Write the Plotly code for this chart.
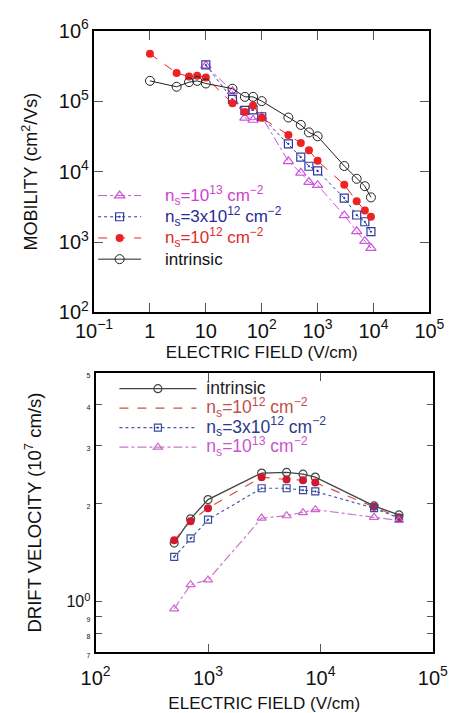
import plotly.graph_objects as go

# ---------------- data: mobility vs field (top panel) ----------------
field_a = [1, 3, 5, 7, 10, 30, 50, 70, 100, 300, 500, 700, 1000, 3000, 5000, 7000, 9000]
mob_intrinsic = [1.94e5, 1.6e5, 1.86e5, 1.94e5, 1.78e5, 1.5e5, 1.15e5, 1.15e5, 1.0e5,
                 5.85e4, 4.6e4, 3.6e4, 3.17e4, 1.2e4, 7.9e3, 6.2e3, 4.3e3]
mob_1e12 = [4.7e5, 2.5e5, 2.24e5, 2.3e5, 2.17e5, 9.3e4, 7.0e4, 8.7e4, 5.8e4,
            3.3e4, 2.55e4, 2.0e4, 1.42e4, 6.5e3, 3.8e3, 2.8e3, 2.29e3]
field_b = [10, 30, 50, 70, 100, 300, 500, 700, 1000, 3000, 5000, 7000, 9000]
mob_3e12 = [3.27e5, 1.06e5, 7.4e4, 7.5e4, 6.0e4, 2.47e4, 1.6e4, 1.19e4, 1.02e4,
            4.2e3, 2.42e3, 1.94e3, 1.4e3]
mob_1e13 = [3.2e5, 1.38e5, 5.8e4, 5.4e4, 6.0e4, 1.4e4, 9.6e3, 7.1e3, 6.4e3,
            2.39e3, 1.42e3, 1.03e3, 8.2e2]

# ---------------- data: drift velocity vs field (bottom panel) ----------------
field_c = [500, 700, 1000, 3000, 5000, 7000, 9000, 30000, 50000]
vel_intrinsic = [1.51, 1.79, 2.05, 2.47, 2.48, 2.45, 2.40, 1.96, 1.84]
vel_1e12 = [1.54, 1.76, 1.93, 2.40, 2.36, 2.35, 2.31, 1.95, 1.81]
vel_3e12 = [1.37, 1.56, 1.78, 2.22, 2.22, 2.19, 2.17, 1.93, 1.80]
vel_1e13 = [0.951, 1.127, 1.166, 1.80, 1.83, 1.87, 1.91, 1.81, 1.77]

vel_tickvals = [0.7, 0.8, 0.9, 1, 2, 3, 4, 5]
vel_ticktext = ["7", "8", "9", "10<sup>0</sup>", "2", "3", "4", "5"]

# ---------------- labels ----------------
lab_1e13 = "n<sub>s</sub>=10<sup>13</sup> cm<sup>\u22122</sup>"
lab_3e12 = "n<sub>s</sub>=3x10<sup>12</sup> cm<sup>\u22122</sup>"
lab_1e12 = "n<sub>s</sub>=10<sup>12</sup> cm<sup>\u22122</sup>"
lab_int = "intrinsic"

MAG = "#cc55dd"
BLUE = "#2e3a9e"
RED = "#ee2222"
BLK = "#222222"
RED2 = "#c9524a"

FONT = "Liberation Sans, Arial, sans-serif"


def lg(txt, col, size, pad):
    return f'<span style="font-size:{size}px;color:{col}">{pad}{txt}</span>'


PAD_TOP = "\u00a0\u00a0\u00a0\u00a0"
PAD_BOT = "\u00a0"

fig = go.Figure()

# top panel
fig.add_trace(go.Scatter(x=field_b, y=mob_1e13, mode="lines+markers", xaxis="x", yaxis="y",
                         name=lg(lab_1e13, "#cc44cc", 17, PAD_TOP), legend="legend",
                         line=dict(color=MAG, width=1, dash="dashdot"),
                         marker=dict(symbol="triangle-up-open", size=9, color=MAG, line=dict(width=1.2))))
fig.add_trace(go.Scatter(x=field_b, y=mob_3e12, mode="lines+markers", xaxis="x", yaxis="y",
                         name=lg(lab_3e12, "#2a2a9a", 17, PAD_TOP), legend="legend",
                         line=dict(color=BLUE, width=1, dash="dot"),
                         marker=dict(symbol="square-open-dot", size=8, color=BLUE, line=dict(width=1.2))))
fig.add_trace(go.Scatter(x=field_a, y=mob_1e12, mode="lines+markers", xaxis="x", yaxis="y",
                         name=lg(lab_1e12, "#dd2b2b", 17, PAD_TOP), legend="legend",
                         line=dict(color=RED, width=1, dash="dash"),
                         marker=dict(symbol="circle", size=8, color=RED)))
fig.add_trace(go.Scatter(x=field_a, y=mob_intrinsic, mode="lines+markers", xaxis="x", yaxis="y",
                         name=lg(lab_int, "#111111", 17, PAD_TOP), legend="legend",
                         line=dict(color=BLK, width=1),
                         marker=dict(symbol="circle-open", size=9, color=BLK, line=dict(width=1))))

# bottom panel
fig.add_trace(go.Scatter(x=field_c, y=vel_intrinsic, mode="lines+markers", xaxis="x2", yaxis="y2",
                         name=lg(lab_int, "#222222", 17.5, PAD_BOT), legend="legend2",
                         line=dict(color="#444444", width=1.3),
                         marker=dict(symbol="circle-open", size=8, color="#3d4a40", line=dict(width=1.2))))
fig.add_trace(go.Scatter(x=field_c, y=vel_1e12, mode="lines+markers", xaxis="x2", yaxis="y2",
                         showlegend=False, legend="legend2",
                         line=dict(color=RED2, width=1.2, dash="dash"),
                         marker=dict(symbol="circle", size=8, color="#d01830")))
fig.add_trace(go.Scatter(x=[None], y=[None], mode="lines", xaxis="x2", yaxis="y2",
                         name=lg(lab_1e12, "#c0504d", 17.5, PAD_BOT), legend="legend2",
                         line=dict(color=RED2, width=1.2, dash="dash")))
fig.add_trace(go.Scatter(x=field_c, y=vel_3e12, mode="lines+markers", xaxis="x2", yaxis="y2",
                         name=lg(lab_3e12, "#2b3a8a", 17.5, PAD_BOT), legend="legend2",
                         line=dict(color="#4a5aa8", width=1.2, dash="dot"),
                         marker=dict(symbol="square-open-dot", size=7, color="#3a4a9a", line=dict(width=1.2))))
fig.add_trace(go.Scatter(x=field_c, y=vel_1e13, mode="lines+markers", xaxis="x2", yaxis="y2",
                         name=lg(lab_1e13, "#cc55cc", 17.5, PAD_BOT), legend="legend2",
                         line=dict(color="#cc77cc", width=1.2, dash="dashdot"),
                         marker=dict(symbol="triangle-up-open", size=8, color="#cc66cc", line=dict(width=1.2))))

W, H = 462, 713
axis_common = dict(showgrid=False, zeroline=False, showline=True, linecolor="black", linewidth=2,
                   mirror="ticks", ticks="inside", tickcolor="#555555", tickwidth=1,
                   tickfont=dict(family=FONT, size=16, color="#111111"))

fig.update_layout(
    width=W, height=H, margin=dict(l=0, r=0, t=0, b=0),
    paper_bgcolor="white", plot_bgcolor="white",
    font=dict(family=FONT, size=16, color="#111111"),
    xaxis=dict(type="log", range=[-1, 5], dtick=1, exponentformat="power", ticklen=9,
               domain=[81 / W, 443 / W], anchor="y",
               title=dict(text="ELECTRIC FIELD (V/cm)", font=dict(size=17), standoff=5),
               **axis_common),
    yaxis=dict(type="log", range=[2, 6], dtick=1, exponentformat="power", ticklen=9,
               domain=[1 - 309.3 / H, 1 - 17.3 / H], anchor="x",
               title=dict(text="MOBILITY (cm<sup>2</sup>/Vs)", font=dict(size=18), standoff=16),
               **axis_common),
    xaxis2=dict(type="log", range=[2, 5], dtick=1, exponentformat="power", ticklen=8,
                ticklabelstandoff=7,
                domain=[82.7 / W, 446.7 / W], anchor="y2",
                title=dict(text="ELECTRIC FIELD (V/cm)", font=dict(size=17), standoff=10),
                **axis_common),
    yaxis2=dict(type="log", range=[-0.15490196, 0.69897], tickmode="array",
                tickvals=vel_tickvals, ticktext=[
                    f'<span style="font-size:7px">{t}</span>' if "sup" not in t else t
                    for t in vel_ticktext],
                ticklen=6, domain=[1 - 661.7 / H, 1 - 371.7 / H], anchor="x2",
                title=dict(text="DRIFT VELOCITY (10<sup>7</sup> cm/s)", font=dict(size=18.5), standoff=20),
                **axis_common),
    legend=dict(x=80 / W, y=1 - 172 / H, xanchor="left", yanchor="top", bgcolor="rgba(0,0,0,0)",
                font=dict(family=FONT, size=14), itemwidth=43, tracegroupgap=0, traceorder="normal"),
    legend2=dict(x=103 / W, y=1 - 373 / H, xanchor="left", yanchor="top", bgcolor="rgba(0,0,0,0)",
                 font=dict(family=FONT, size=12.7), itemwidth=77, tracegroupgap=0, traceorder="normal"),
    showlegend=True,
)

fig.write_html("out.html", config={"displayModeBar": False},
               post_script="document.body.style.margin='0';document.body.style.overflow='hidden';")
